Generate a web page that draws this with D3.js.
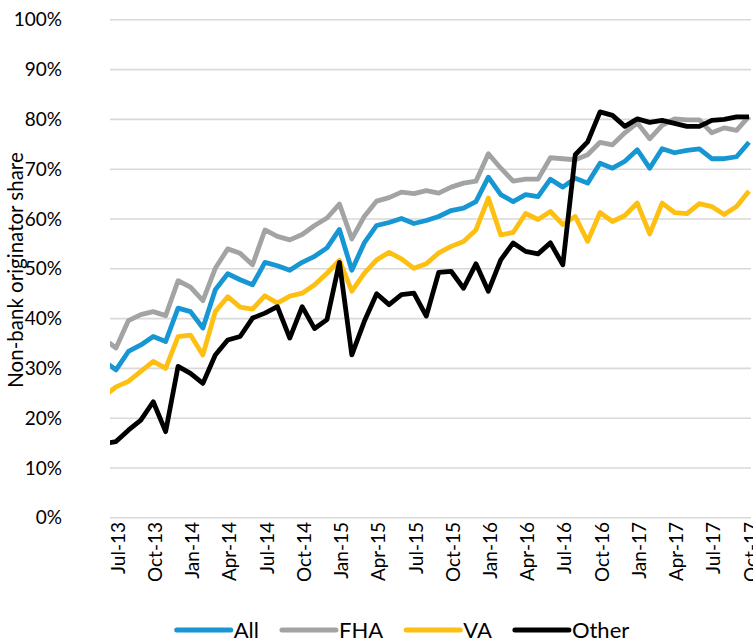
<!DOCTYPE html>
<html>
<head>
<meta charset="utf-8">
<script src="https://cdn.jsdelivr.net/npm/d3@7"></script>
<style>
  body { margin: 0; background: #fff; }
  svg text { font-family: Lato, "Noto Sans", sans-serif; fill: #000; }
</style>
</head>
<body>
<svg id="chart" width="753" height="641"></svg>
<script>
// Monthly observations (the first month sits just left of the plot edge and is clipped)
const months = [
  "Jun-13","Jul-13","Aug-13","Sep-13","Oct-13","Nov-13","Dec-13",
  "Jan-14","Feb-14","Mar-14","Apr-14","May-14","Jun-14","Jul-14","Aug-14","Sep-14","Oct-14","Nov-14","Dec-14",
  "Jan-15","Feb-15","Mar-15","Apr-15","May-15","Jun-15","Jul-15","Aug-15","Sep-15","Oct-15","Nov-15","Dec-15",
  "Jan-16","Feb-16","Mar-16","Apr-16","May-16","Jun-16","Jul-16","Aug-16","Sep-16","Oct-16","Nov-16","Dec-16",
  "Jan-17","Feb-17","Mar-17","Apr-17","May-17","Jun-17","Jul-17","Aug-17","Sep-17","Oct-17"
];

// Non-bank originator share, percent
const allShare = [
  31.5, 29.7, 33.4, 34.7, 36.4, 35.4, 42.1,
  41.4, 38.1, 45.8, 49.0, 47.8, 46.8, 51.3, 50.6, 49.7, 51.3, 52.5, 54.2,
  57.9, 49.7, 55.2, 58.7, 59.3, 60.1, 59.1, 59.7, 60.5, 61.7, 62.2, 63.5,
  68.4, 64.9, 63.5, 64.9, 64.5, 68.0, 66.4, 68.2, 67.2, 71.2, 70.2, 71.6,
  73.9, 70.2, 74.1, 73.3, 73.8, 74.1, 72.1, 72.1, 72.5, 75.4
];
const fhaShare = [
  36.0, 34.1, 39.6, 40.8, 41.4, 40.6, 47.6,
  46.3, 43.6, 50.1, 54.0, 53.1, 50.8, 57.8, 56.5, 55.8, 56.9, 58.7, 60.2,
  63.0, 56.0, 60.5, 63.6, 64.3, 65.4, 65.1, 65.7, 65.2, 66.4, 67.2, 67.6,
  73.1, 70.2, 67.6, 68.0, 68.0, 72.3, 72.1, 71.9, 72.9, 75.4, 74.9, 77.3,
  79.3, 76.1, 78.8, 80.1, 79.9, 79.9, 77.3, 78.3, 77.8, 80.6
];
const vaShare = [
  24.3, 26.3, 27.4, 29.4, 31.4, 30.0, 36.4,
  36.7, 32.7, 41.4, 44.4, 42.3, 41.9, 44.6, 43.1, 44.5, 45.1, 46.8, 49.1,
  51.7, 45.5, 49.1, 51.8, 53.3, 52.0, 50.1, 51.0, 53.2, 54.5, 55.5, 57.8,
  64.2, 56.8, 57.3, 61.1, 59.9, 61.5, 58.9, 60.5, 55.5, 61.3, 59.5, 60.7,
  63.2, 57.0, 63.2, 61.3, 61.1, 63.1, 62.5, 60.9, 62.5, 65.6
];
const otherShare = [
  14.9, 15.3, 17.6, 19.6, 23.3, 17.3, 30.4,
  29.0, 27.0, 32.7, 35.7, 36.4, 40.1, 41.1, 42.4, 36.1, 42.4, 38.0, 39.8,
  51.3, 32.7, 39.4, 45.0, 42.8, 44.8, 45.1, 40.5, 49.3, 49.5, 46.1, 51.0,
  45.5, 51.8, 55.2, 53.5, 53.0, 55.2, 50.8, 72.9, 75.5, 81.5, 80.8, 78.6,
  80.1, 79.4, 79.8, 79.2, 78.6, 78.6, 79.8, 80.0, 80.5, 80.5
];

const seriesNames = ["All", "FHA", "VA", "Other"];
const seriesColors = ["#1696d2", "#a2a4a3", "#fdbf11", "#000000"];
const seriesValues = [allShare, fhaShare, vaShare, otherShare];

// Axis labels
const yTicks = [0, 10, 20, 30, 40, 50, 60, 70, 80, 90, 100];
const xTickLabels = ["Jul-13","Oct-13","Jan-14","Apr-14","Jul-14","Oct-14","Jan-15","Apr-15","Jul-15",
                     "Oct-15","Jan-16","Apr-16","Jul-16","Oct-16","Jan-17","Apr-17","Jul-17","Oct-17"];
const yTitle = "Non-bank originator share";

const svg = d3.select("#chart");
const plot = { left: 110, right: 751, top: 19.8, bottom: 517.8 };

const x = d3.scaleLinear().domain([0, months.length - 1]).range([103.6, 749]);
const y = d3.scaleLinear().domain([0, 100]).range([plot.bottom, plot.top]);

svg.append("defs").append("clipPath").attr("id", "plotClip")
  .append("rect")
  .attr("x", plot.left).attr("y", 0)
  .attr("width", 753 - plot.left).attr("height", 641);

// Horizontal gridlines
svg.append("g").selectAll("line")
  .data(yTicks).join("line")
  .attr("x1", plot.left).attr("x2", plot.right)
  .attr("y1", d => y(d)).attr("y2", d => y(d))
  .attr("stroke", "#d9d9d9").attr("stroke-width", 1.6);

// Y tick labels
svg.append("g").selectAll("text")
  .data(yTicks).join("text")
  .attr("x", 62).attr("y", d => y(d)).attr("dy", "0.35em")
  .attr("text-anchor", "end").attr("font-size", 19)
  .text(d => d + "%");

// Y axis title
svg.append("text")
  .attr("transform", "translate(22.5,270) rotate(-90)")
  .attr("text-anchor", "middle").attr("font-size", 20.5)
  .text(yTitle);

// X tick labels, rotated
svg.append("g").selectAll("text")
  .data(xTickLabels).join("text")
  .attr("transform", d => `translate(${x(months.indexOf(d)) + 2},522) rotate(-90)`)
  .attr("dy", "0.35em")
  .attr("text-anchor", "end").attr("font-size", 19)
  .text(d => d);

// Series lines
const line = d3.line().x((d, i) => x(i)).y(d => y(d));
svg.append("g").attr("clip-path", "url(#plotClip)")
  .selectAll("path")
  .data(seriesValues).join("path")
  .attr("d", d => line(d))
  .attr("fill", "none")
  .attr("stroke", (d, i) => seriesColors[i])
  .attr("stroke-width", 4.8)
  .attr("stroke-linejoin", "round")
  .attr("stroke-linecap", "butt");

// Legend
const legend = svg.append("g");
const swatch = 54, textGap = 3, itemGap = 23, legendY = 630;
const items = legend.selectAll("g").data(seriesNames).join("g");
items.append("line")
  .attr("x1", 0).attr("x2", swatch).attr("y1", 0).attr("y2", 0)
  .attr("stroke", (d, i) => seriesColors[i]).attr("stroke-width", 5)
  .attr("stroke-linecap", "round");
items.append("text")
  .attr("x", swatch + textGap).attr("dy", "0.35em")
  .attr("font-size", 22)
  .text(d => d);
let widths = [];
items.each(function() { widths.push(this.getBBox().width); });
const total = d3.sum(widths) + itemGap * (widths.length - 1);
let cx = 403 - total / 2;
items.attr("transform", (d, i) => {
  const t = `translate(${cx},${legendY})`;
  cx += widths[i] + itemGap;
  return t;
});
</script>
</body>
</html>
